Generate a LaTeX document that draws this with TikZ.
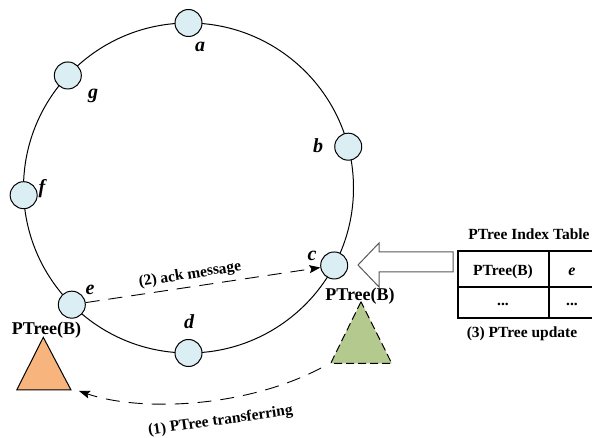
\documentclass[tikz,border=0pt]{standalone}
\usepackage{fontspec}
\setmainfont{Liberation Serif}
\usetikzlibrary{arrows.meta}
\definecolor{nodeblue}{HTML}{DAEEF3}
\definecolor{orangefill}{HTML}{F8B47D}
\definecolor{greenfill}{HTML}{B4C98E}
\definecolor{arrowgray}{HTML}{595959}
\begin{document}
\begin{tikzpicture}[x=1pt,y=-1pt,
  ringnode/.style={circle,draw=black,line width=1pt,fill=nodeblue,minimum size=27pt,inner sep=0pt},
  lbl/.style={font=\fontsize{20}{20}\selectfont\bfseries\itshape,inner sep=0pt},
  txt/.style={font=\fontsize{15.5}{15.5}\selectfont\bfseries,inner sep=0pt},
  ptxt/.style={font=\fontsize{18}{18}\selectfont\bfseries,inner sep=0pt},
  msg/.style={dash pattern=on 14pt off 9pt,line width=0.9pt,-{Stealth[length=11pt,width=8pt,inset=2pt]}},
  tline/.style={line width=1.1pt,black},
]
\useasboundingbox (0,0) rectangle (592,438);
\fill[white] (0,0) rectangle (592,438);
% ring
\coordinate (O) at (188.5,188);
\draw[line width=1pt] (O) circle[radius=165pt];
\foreach \n/\ang in {a/90,g/137,f/182.5,e/225,d/270,c/332,b/14.5}
  \node[ringnode] (\n) at ([shift={(\ang:165pt)}]O) {};
% ring labels
\node[lbl] (la) at (200,47) {a};
\node[lbl] (lg) at (93,96) {g};
\node[lbl] (lb) at (318,146) {b};
\node[lbl] (lf) at (42,189) {f};
\node[lbl] (lc) at (312,256) {c};
\node[lbl] (le) at (90,290) {e};
\node[lbl] (ld) at (189,322) {d};
% triangles
\coordinate (oA) at (43.3,337.3);
\coordinate (oL) at (16.7,390);
\coordinate (oR) at (71,390);
\draw[fill=orangefill,line width=1pt] (oA) -- (oL) -- (oR) -- cycle;
\coordinate (gA) at (361,301.7);
\coordinate (gL) at (330.7,363.3);
\coordinate (gR) at (391.7,363.3);
\draw[fill=greenfill,line width=1pt,dash pattern=on 8pt off 4pt] (gA) -- (gL) -- (gR) -- cycle;
\node[ptxt] (pe) at (46.5,330) {PTree(B)};
\node[ptxt] (pc) at (360,296) {PTree(B)};
% ack message
\draw[msg] (e) -- (c);
\node[txt,rotate=9] (ack) at (190,275) {(2) ack message};
% transferring
\coordinate (s1) at (321,368);
\coordinate (t1) at (79,391);
\draw[msg] (s1) .. controls (245,408) and (140,412) .. (t1);
\node[txt,rotate=8] (tr) at (220.5,421) {(1) PTree transferring};
% hollow block arrow
\draw[draw=arrowgray,line width=1pt,fill=white] (358,265) -- (379,243) -- (379,252) -- (453,252) -- (453,272) -- (379,272) -- (379,287) -- cycle;
% table
\node[txt] (tt) at (529,234) {PTree Index Table};
\draw[tline] (600,251) -- (458,251) -- (458,318) -- (600,318);
\draw[tline] (458,287) -- (600,287);
\draw[tline] (549,251) -- (549,318);
\node[txt] (t11) at (503,272) {PTree(B)};
\node[lbl,font=\fontsize{16}{16}\selectfont\bfseries\itshape] (t12) at (572,272) {e};
\node[txt] (t21) at (503,304) {...};
\node[txt] (t22) at (572,304) {...};
\node[txt] (upd) at (522,334) {(3) PTree update};
\end{tikzpicture}
\end{document}
